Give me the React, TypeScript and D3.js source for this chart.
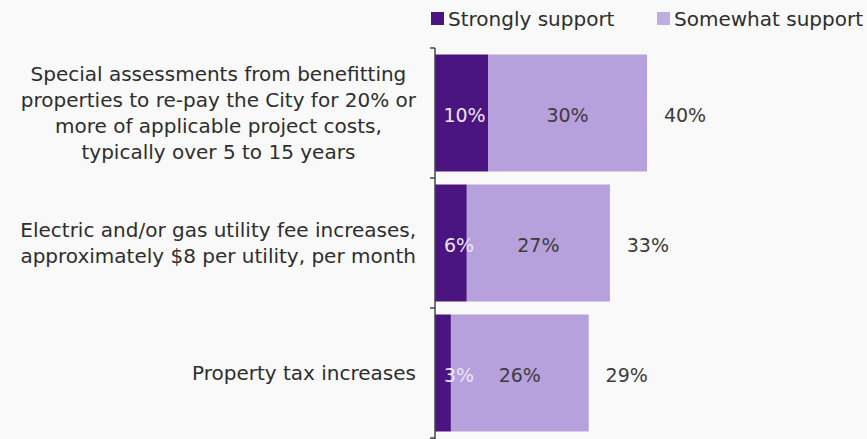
import React, { useEffect, useRef } from 'react';
import * as d3 from 'd3';

const categories = ['special', 'utility', 'property'];
const categoryLines = [
  ['Special assessments from benefitting', 'properties to re-pay the City for 20% or', 'more of applicable project costs,', 'typically over 5 to 15 years'],
  ['Electric and/or gas utility fee increases,', 'approximately $8 per utility, per month'],
  ['Property tax increases'],
];
const stronglySupport = [10, 6, 3];
const somewhatSupport = [30, 27, 26];
const totalSupport = [40, 33, 29];
const seriesNames = ['Strongly support', 'Somewhat support'];

const DARK = '#4a1580';
const LIGHT = '#b7a1dc';
const FONT = '"DejaVu Sans", Verdana, sans-serif';

export default function App() {
  const svgRef = useRef<SVGSVGElement>(null);

  useEffect(() => {
    if (!svgRef.current) return;
    const width = 867;
    const height = 439;
    const svg = d3.select(svgRef.current);
    svg.selectAll('*').remove();

    svg.append('rect').attr('width', width).attr('height', height).attr('fill', '#f9f9f9');

    const x = d3.scaleLinear().domain([0, 80]).range([435, 859]);
    const y = d3.scaleBand<string>().domain(categories).range([48, 438]).paddingInner(0.1).paddingOuter(0.05);

    const valueSize = 19;
    const catSize = 20;

    // bars
    categories.forEach((c, i) => {
      const y0 = y(c)!;
      const h = y.bandwidth();
      const cy = y0 + h / 2;
      const s = stronglySupport[i];
      const w = somewhatSupport[i];
      svg.append('rect').attr('x', x(0)).attr('y', y0).attr('width', x(s) - x(0)).attr('height', h).attr('fill', DARK);
      svg.append('rect').attr('x', x(s)).attr('y', y0).attr('width', x(s + w) - x(s)).attr('height', h).attr('fill', LIGHT);

      svg.append('text')
        .attr('x', Math.max((x(0) + x(s)) / 2 + 3, x(0) + 24))
        .attr('y', cy + 2)
        .attr('text-anchor', 'middle').attr('dominant-baseline', 'central')
        .style('font-family', FONT).style('font-size', valueSize + 'px')
        .attr('fill', '#ece6f4').text(s + '%');
      svg.append('text')
        .attr('x', (x(s) + x(s + w)) / 2)
        .attr('y', cy + 2)
        .attr('text-anchor', 'middle').attr('dominant-baseline', 'central')
        .style('font-family', FONT).style('font-size', valueSize + 'px')
        .attr('fill', '#3c3c3c').text(w + '%');
      svg.append('text')
        .attr('x', x(totalSupport[i]) + 38)
        .attr('y', cy + 2)
        .attr('text-anchor', 'middle').attr('dominant-baseline', 'central')
        .style('font-family', FONT).style('font-size', valueSize + 'px')
        .attr('fill', '#3c3c3c').text(totalSupport[i] + '%');

      // category labels: block right-aligned, lines centered inside it
      const lines = categoryLines[i];
      const g = svg.append('g');
      const lh = 26;
      const texts = lines.map((ln, j) =>
        g.append('text')
          .attr('y', cy + (j - (lines.length - 1) / 2) * lh)
          .attr('text-anchor', 'middle').attr('dominant-baseline', 'central')
          .style('font-family', FONT).style('font-size', catSize + 'px')
          .attr('fill', '#2e2e2e').text(ln)
      );
      const maxW = d3.max(texts, (t) => (t.node() as SVGTextElement).getComputedTextLength()) || 0;
      texts.forEach((t) => t.attr('x', 416 - maxW / 2));
    });

    // axis line with ticks at band edges
    svg.append('line').attr('x1', x(0)).attr('x2', x(0)).attr('y1', 48).attr('y2', 439)
      .attr('stroke', '#444').attr('stroke-width', 1.5);
    const edges = categories.map((c) => y(c)! - y.step() * y.paddingInner() / 2);
    edges.push(438);
    edges[0] = 48;
    edges.forEach((e) => {
      svg.append('line').attr('x1', x(0) - 5).attr('x2', x(0)).attr('y1', e).attr('y2', e)
        .attr('stroke', '#444').attr('stroke-width', 1.5);
    });

    // legend
    const legendX = [431, 657];
    seriesNames.forEach((n, i) => {
      svg.append('rect').attr('x', legendX[i]).attr('y', 12).attr('width', 13).attr('height', 13)
        .attr('fill', i === 0 ? DARK : '#bfaee2');
      svg.append('text').attr('x', legendX[i] + 17).attr('y', 18.5).attr('dominant-baseline', 'central')
        .style('font-family', FONT).style('font-size', '20px').attr('fill', '#2e2e2e').text(n);
    });
  }, []);

  return (
    <svg ref={svgRef} width={867} height={439} style={{ position: 'absolute', left: 0, top: 0, display: 'block' }} />
  );
}
